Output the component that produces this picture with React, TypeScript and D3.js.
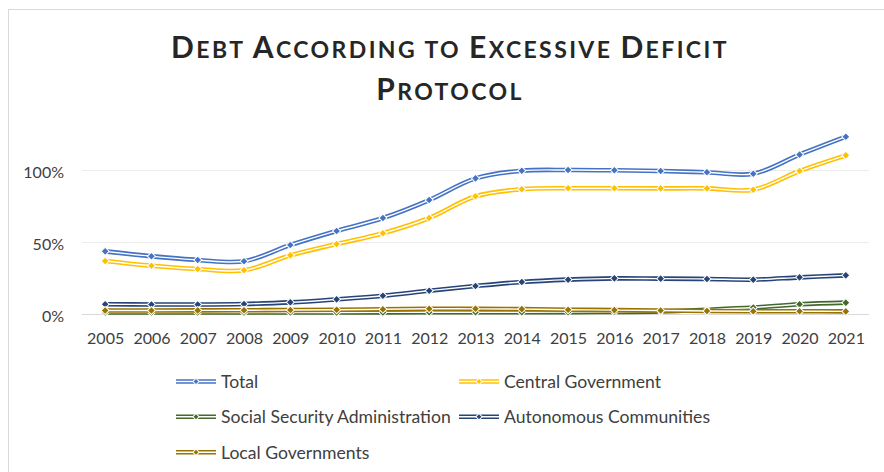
import React, { useEffect, useRef } from "react";
import * as d3 from "d3";

const years = ["2005","2006","2007","2008","2009","2010","2011","2012","2013","2014","2015","2016","2017","2018","2019","2020","2021"];
const seriesNames = ["Total","Central Government","Social Security Administration","Autonomous Communities","Local Governments"];
const totalValues = [43.6,40.2,37.6,36.7,48.0,57.8,66.8,79.3,94.4,99.7,100.2,100.0,99.5,98.6,97.6,110.9,123.4];
const centralValues = [36.9,33.6,31.3,30.4,40.8,48.7,56.2,66.8,81.9,86.8,87.5,87.5,87.4,87.4,86.5,99.5,110.4];
const socialSecurityValues = [1.0,1.0,1.0,1.0,1.0,1.0,1.1,1.2,1.2,1.2,1.3,1.4,1.8,3.0,4.5,6.8,7.9];
const autonomousValues = [6.8,6.6,6.6,7.0,8.1,10.2,12.7,16.2,19.5,22.3,23.9,24.8,24.6,24.4,23.9,25.5,26.9];
const localValues = [2.4,2.4,2.5,2.6,2.8,3.0,3.3,3.7,3.6,3.4,3.0,2.7,2.4,2.1,1.9,1.9,1.8];
const seriesColors = ["#4472C4","#FFC000","#43682B","#264478","#997300"];
const yTicks = [0, 0.5, 1];
const titleLines = ["Debt According to Excessive Deficit", "Protocol"];

const FONT = "Lato, 'Open Sans', sans-serif";

export default function App() {
  const ref = useRef<SVGSVGElement>(null);
  useEffect(() => {
    const svg = d3.select(ref.current);
    svg.selectAll("*").remove();
    const W = 884, H = 472;
    const allValues = [totalValues, centralValues, socialSecurityValues, autonomousValues, localValues];
    const x = d3.scalePoint<string>().domain(years).range([82, 869]).padding(0.5);
    const y = d3.scaleLinear().domain([0, 1]).range([314, 170.3]);

    svg.append("rect").attr("x", 0).attr("y", 0).attr("width", W).attr("height", H).attr("fill", "#fff");
    svg.append("rect").attr("x", 8.5).attr("y", 9.5).attr("width", 900).attr("height", 500)
      .attr("fill", "none").attr("stroke", "#d9d9d9").attr("stroke-width", 1);

    // title (small caps)
    titleLines.forEach((line, li) => {
      const t = svg.append("text").attr("x", 450).attr("y", li === 0 ? 58 : 100)
        .attr("text-anchor", "middle").attr("font-family", FONT).attr("font-weight", 700)
        .attr("fill", "#262626").attr("letter-spacing", 2.4);
      line.split(" ").forEach((word, wi) => {
        if (wi > 0) t.append("tspan").attr("font-size", 23).text(" ");
        const isUpper = word[0] === word[0].toUpperCase();
        t.append("tspan").attr("font-size", isUpper ? 30 : 23).text(word[0].toUpperCase());
        if (word.length > 1) t.append("tspan").attr("font-size", 23).text(word.slice(1).toUpperCase());
      });
    });

    // gridlines
    svg.append("g").selectAll("line").data(yTicks.filter(d => d > 0)).join("line")
      .attr("x1", 82).attr("x2", 869).attr("y1", d => Math.round(y(d)) + 0.5).attr("y2", d => Math.round(y(d)) + 0.5)
      .attr("stroke", "#ececec").attr("stroke-width", 1);
    svg.append("line").attr("x1", 82).attr("x2", 869).attr("y1", 314.5).attr("y2", 314.5)
      .attr("stroke", "#d9d9d9").attr("stroke-width", 1);

    // axes
    const yAxis = svg.append("g").attr("transform", "translate(82,0)")
      .call(d3.axisLeft(y).tickValues(yTicks).tickFormat(d3.format(".0%")).tickSize(0).tickPadding(18));
    yAxis.select(".domain").remove();
    yAxis.selectAll("text").attr("font-family", FONT).attr("font-size", 16).attr("fill", "#404040").attr("dy", "0.45em");

    const xAxis = svg.append("g").attr("transform", "translate(0,314)")
      .call(d3.axisBottom(x).tickSize(0).tickPadding(19));
    xAxis.select(".domain").remove();
    xAxis.selectAll("text").attr("font-family", FONT).attr("font-size", 16).attr("fill", "#404040");

    const line = d3.line<number>().x((_, i) => x(years[i])!).y(d => y(d / 100)).curve(d3.curveCatmullRom.alpha(0.5));
    const diamond = d3.symbol().type(d3.symbolSquare).size(32);

    allValues.forEach((vals, si) => {
      const g = svg.append("g");
      g.append("path").attr("d", line(vals)!).attr("fill", "none").attr("stroke", seriesColors[si])
        .attr("stroke-width", 4.6).attr("stroke-linejoin", "round");
      g.append("path").attr("d", line(vals)!).attr("fill", "none").attr("stroke", "#fff")
        .attr("stroke-width", 1.4).attr("stroke-linejoin", "round");
      g.selectAll("path.m").data(vals).join("path").attr("class", "m")
        .attr("d", diamond()!)
        .attr("transform", (d, i) => `translate(${x(years[i])},${y(d / 100)}) rotate(45)`)
        .attr("fill", seriesColors[si]).attr("stroke", "#fff").attr("stroke-width", 1);
    });

    // legend
    const legendPos = [[176, 381.5], [459, 381.5], [176, 416.7], [459, 416.7], [176, 452.3]];
    const smallDiamond = d3.symbol().type(d3.symbolSquare).size(20);
    seriesNames.forEach((name, i) => {
      const [lx, ly] = legendPos[i];
      const g = svg.append("g").attr("transform", `translate(${lx},${ly})`);
      g.append("line").attr("x1", 0).attr("x2", 40).attr("y1", 0).attr("y2", 0)
        .attr("stroke", seriesColors[i]).attr("stroke-width", 4.6);
      g.append("line").attr("x1", 0).attr("x2", 40).attr("y1", 0).attr("y2", 0)
        .attr("stroke", "#fff").attr("stroke-width", 1.4);
      g.append("path").attr("d", smallDiamond()!).attr("transform", "translate(20,0) rotate(45)")
        .attr("fill", seriesColors[i]).attr("stroke", "#fff").attr("stroke-width", 1);
      g.append("text").attr("x", 45).attr("y", 0).attr("dy", "0.36em").attr("font-family", FONT)
        .attr("font-size", 17.6).attr("fill", "#404040").text(name);
    });
  }, []);
  return (
    <div style={{ position: "fixed", left: 0, top: 0 }}>
      <svg ref={ref} width={884} height={472} style={{ display: "block" }} />
    </div>
  );
}
